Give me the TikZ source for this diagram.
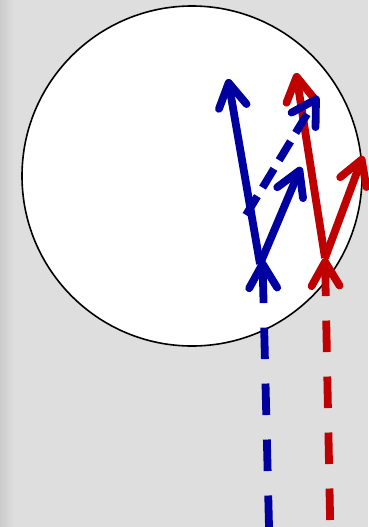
\documentclass[tikz,border=0pt]{standalone}
\usetikzlibrary{arrows.meta}
\definecolor{vblue}{RGB}{0,0,160}
\definecolor{vred}{RGB}{192,0,0}
\definecolor{bgc}{RGB}{222,222,222}
\definecolor{bgedge}{RGB}{204,204,204}
\begin{document}
\begin{tikzpicture}[x=1pt,y=-1pt,
  vec/.style={line width=7.8pt,-{Straight Barb[length=24pt,width=28pt,round]}},
  longdash/.style={dash pattern=on 31.5pt off 24.5pt},
  shortdash/.style={dash pattern=on 22pt off 10pt}]
\useasboundingbox (0,0) rectangle (368,527);
\fill[bgc] (0,0) rectangle (368,527);
\shade[left color=bgedge, right color=bgc] (0,0) rectangle (14,527);
\draw[line width=1.6pt, fill=white] (192,176) circle[radius=170];
% coordinates
\coordinate (rbot) at (330.1,520);
\coordinate (rtail) at (325,258);
\coordinate (rtip1) at (296,73);
\coordinate (rtip2) at (363,156);
\coordinate (bbot) at (269,527);
\coordinate (btailtip) at (262.5,260);
\coordinate (btail) at (260,264);
\coordinate (btip1) at (228,79);
\coordinate (btip2) at (301,167);
\coordinate (dtail) at (246,215);
\coordinate (dtip) at (318,96);
% red
\draw[vec, vred, longdash] (rbot) -- (rtail);
\draw[vec, vred] (rtail) -- (rtip1);
\draw[vec, vred] (rtail) -- (rtip2);
% blue
\draw[vec, vblue, longdash] (bbot) -- (btailtip);
\draw[vec, vblue] (btail) -- (btip1);
\draw[vec, vblue] (btail) -- (btip2);
\draw[vec, vblue, shortdash] (dtail) -- (dtip);
\end{tikzpicture}
\end{document}
